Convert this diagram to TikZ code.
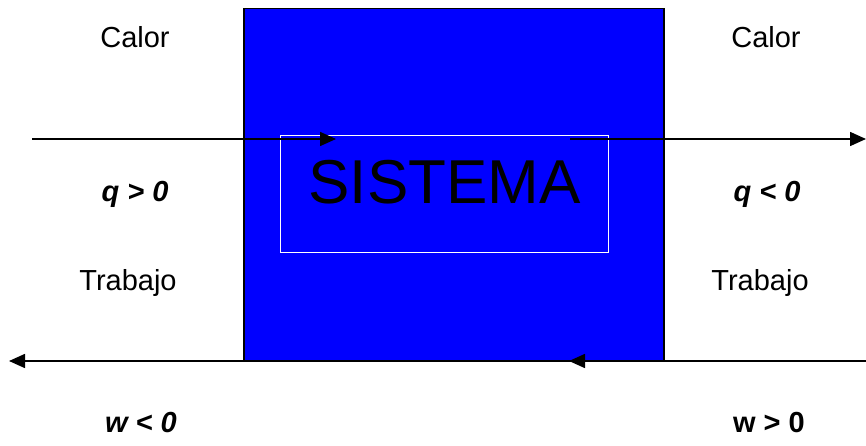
\documentclass[tikz,border=0pt]{standalone}
\usepackage{fontspec}
\setmainfont{Liberation Sans}
\usetikzlibrary{arrows.meta}
\begin{document}
\begin{tikzpicture}[x=1pt,y=-1pt,
  lbl/.style={anchor=base,inner sep=0pt,font=\fontsize{29}{33}\selectfont},
  lbli/.style={lbl,font=\fontsize{29}{33}\selectfont\bfseries\itshape},
  lblb/.style={lbl,font=\fontsize{29}{33}\selectfont\bfseries},
  arr/.style={line width=1.6pt,-{Triangle[length=16pt,width=14pt]}}]
\useasboundingbox (0,0) rectangle (866,446);
\fill[white] (0,0) rectangle (866,446);
% system box
\node[draw=black,line width=1.5pt,fill={rgb,255:red,0;green,0;blue,255},minimum width=420pt,minimum height=352pt,inner sep=0pt,anchor=north west] (sys) at (243,8) {};
\node[draw=white,line width=1pt,minimum width=328pt,minimum height=117pt,inner sep=0pt,anchor=north west] (inner) at (280,135) {};
\node[anchor=base,inner sep=0pt,font=\fontsize{62}{70}\selectfont] (title) at (444.5,204) {SISTEMA};
% labels
\node[lbl] (c1) at (135,48) {Calor};
\node[lbl] (c2) at (766,48) {Calor};
\node[lbli] (q1) at (135,201) {q > 0};
\node[lbli] (q2) at (767,201) {q < 0};
\node[lbl] (t1) at (128,290) {Trabajo};
\node[lbl] (t2) at (760,290) {Trabajo};
\node[lbli] (w1) at (141,432) {w < 0};
\node[lblb] (w2) at (769,432) {w > 0};
% arrows
\coordinate (a1s) at (32,139);
\coordinate (a1e) at (336,139);
\coordinate (a2s) at (570,139);
\coordinate (a2e) at (866,139);
\coordinate (b1s) at (337,361);
\coordinate (b1e) at (9,361);
\coordinate (b2s) at (866,361);
\coordinate (b2e) at (569,361);
\draw[arr] (a1s) -- (a1e);
\draw[arr] (a2s) -- (a2e);
\draw[arr] (b1s) -- (b1e);
\draw[arr] (b2s) -- (b2e);
\end{tikzpicture}
\end{document}
